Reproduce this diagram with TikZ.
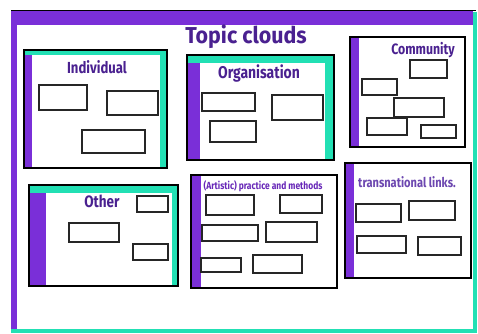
\documentclass[tikz,border=0pt]{standalone}
\usepackage{fontspec}
\usepackage{xcolor}
\usepackage{tikz}
\usetikzlibrary{positioning}
\newfontfamily\cloudfont{Fira Sans}[FakeStretch=0.82]
\newfontfamily\titlefont{Fira Sans}[FakeStretch=0.93]
\definecolor{violet}{HTML}{7A2FD8}
\definecolor{mint}{HTML}{22E0B4}
\definecolor{ink}{HTML}{4A2190}
\definecolor{inklight}{HTML}{6C47B0}
\tikzset{
  frame/.style={draw=black, line width=1.6pt, fill=white},
  slot/.style={draw=black!85, line width=1.7pt, fill=white},
  band/.style={fill=violet},
  edge/.style={fill=mint},
  hdr/.style={anchor=base, text=ink, inner sep=0pt, font=\cloudfont\bfseries},
}
\begin{document}
\begin{tikzpicture}[x=1pt, y=-1pt]
\useasboundingbox[fill=white] (0,0) rectangle (478,333);
% outer sheet
\fill[band] (11,11) rectangle (473,25);
\fill[band] (11,11) rectangle (17,331);
\fill[edge] (473,12) rectangle (477,333);
\fill[edge] (11,329) rectangle (477,333);
\draw[black, line width=0.8pt] (11,10.5) -- (476,10.5);
\node[hdr, font=\titlefont\bfseries\fontsize{23}{23}\selectfont] (title) at (246,43) {Topic clouds};

% Individual
\draw[frame] (24,50) rectangle (167,168);
\fill[edge] (24,50) rectangle (167,55);
\fill[edge] (160,50) rectangle (167,168);
\fill[band] (24,55) rectangle (32,168);
\draw[line width=1.6pt] (24,50) rectangle (167,168);
\node[hdr, font=\cloudfont\bfseries\fontsize{16}{16}\selectfont] (indiv) at (97,73) {Individual};
\draw[slot] (39,85) rectangle (87,110);
\draw[slot] (107,91) rectangle (158,115);
\draw[slot] (82,130) rectangle (145,153);

% Organisation
\draw[frame] (187,55) rectangle (334,160);
\fill[edge] (187,55) rectangle (334,63);
\fill[edge] (325,55) rectangle (334,160);
\fill[band] (187,63) rectangle (200,160);
\draw[line width=1.6pt] (187,55) rectangle (334,160);
\node[hdr, font=\cloudfont\bfseries\fontsize{17}{17}\selectfont] (org) at (259,78) {Organisation};
\draw[slot] (202,93) rectangle (255,111);
\draw[slot] (210,121) rectangle (256,142);
\draw[slot] (272,95) rectangle (323,120);

% Community
\draw[frame] (350,37) rectangle (465,147);
\fill[band] (350,37) rectangle (359,147);
\draw[line width=1.6pt] (350,37) rectangle (465,147);
\node[hdr, font=\cloudfont\bfseries\fontsize{15}{15}\selectfont] (comm) at (423,54) {Community};
\draw[slot] (410,60) rectangle (447,78);
\draw[slot] (362,79) rectangle (397,95);
\draw[slot] (394,98) rectangle (444,117);
\draw[slot] (367,118) rectangle (407,135);
\draw[slot] (421,125) rectangle (456,138);

% Other
\draw[frame] (29,185) rectangle (178,286);
\fill[edge] (29,185) rectangle (178,193);
\fill[edge] (172,185) rectangle (178,286);
\fill[band] (29,193) rectangle (46,286);
\draw[line width=1.6pt] (29,185) rectangle (178,286);
\node[hdr, font=\cloudfont\bfseries\fontsize{16.5}{16.5}\selectfont] (other) at (102,207) {Other};
\draw[slot] (137,196) rectangle (168,212);
\draw[slot] (69,223) rectangle (119,242);
\draw[slot] (133,244) rectangle (168,260);

% (Artistic) practice and methods
\draw[frame] (191,175) rectangle (337,288);
\fill[band] (191,175) rectangle (201,288);
\draw[line width=1.6pt] (191,175) rectangle (337,288);
\node[hdr, text=violet!85!black, font=\cloudfont\bfseries\fontsize{10.3}{10.3}\selectfont] (art) at (263,189) {(Artistic) practice and methods};
\draw[slot] (206,195) rectangle (254,215);
\draw[slot] (280,195) rectangle (322,213);
\draw[slot] (202,225) rectangle (258,241);
\draw[slot] (266,222) rectangle (317,242);
\draw[slot] (201,258) rectangle (241,272);
\draw[slot] (253,255) rectangle (302,273);

% transnational links
\draw[frame] (345,163) rectangle (471,278);
\fill[band] (345,163) rectangle (354,278);
\draw[line width=1.6pt] (345,163) rectangle (471,278);
\node[hdr, text=inklight, font=\cloudfont\bfseries\fontsize{13.5}{13.5}\selectfont] (trans) at (407,187) {transnational links.};
\draw[slot] (356,204) rectangle (401,222);
\draw[slot] (409,201) rectangle (455,220);
\draw[slot] (357,236) rectangle (406,253);
\draw[slot] (418,237) rectangle (461,255);
\end{tikzpicture}
\end{document}
